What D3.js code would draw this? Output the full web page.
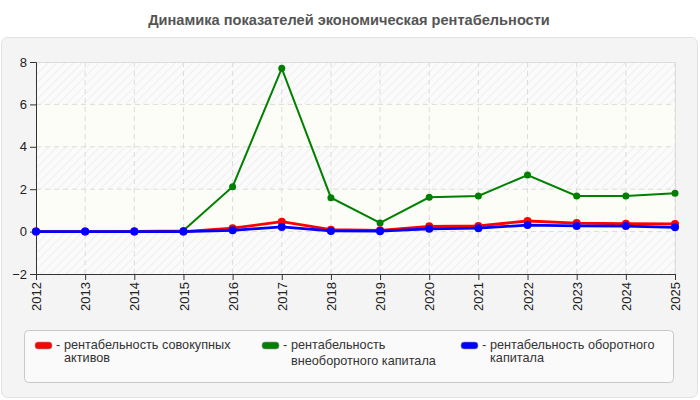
<!DOCTYPE html>
<html><head><meta charset="utf-8">
<script src="https://cdn.jsdelivr.net/npm/d3@7/dist/d3.min.js"></script>
<style>body{margin:0;background:#fff;} svg{display:block;font-family:"Liberation Sans",Arial,sans-serif;}</style>
</head><body>
<svg id="c" width="700" height="400"></svg>
<script>
const years = [2012,2013,2014,2015,2016,2017,2018,2019,2020,2021,2022,2023,2024,2025];
const totalAssets = [0,0,0,0,0.16,0.47,0.09,0.06,0.25,0.27,0.5,0.4,0.37,0.36];
const nonCurrent = [0,0,0.03,0.05,2.12,7.7,1.6,0.41,1.62,1.68,2.67,1.68,1.68,1.81];
const current = [0,0,0,0,0.06,0.22,0.03,0.02,0.13,0.16,0.31,0.27,0.26,0.2];
const yTicks = [-2,0,2,4,6,8];
const seriesNames = ["рентабельность совокупных активов","рентабельность внеоборотного капитала","рентабельность оборотного капитала"];
const title = "Динамика показателей экономическая рентабельности";

const svg = d3.select("#c");
const defs = svg.append("defs");
const pat = defs.append("pattern").attr("id","hatch").attr("patternUnits","userSpaceOnUse")
  .attr("width",6).attr("height",6).attr("patternTransform","rotate(45)");
pat.append("rect").attr("width",6).attr("height",6).attr("fill","#fbfbfb");
pat.append("line").attr("x1",0).attr("y1",0).attr("x2",0).attr("y2",6).attr("stroke","#e8e8e8").attr("stroke-width",1.2);

// outer panel
svg.append("rect").attr("x",1.5).attr("y",37.5).attr("width",696).attr("height",360).attr("rx",6)
  .attr("fill","#f4f4f4").attr("stroke","#e2e2e2");
svg.append("text").attr("x",349).attr("y",25).attr("text-anchor","middle")
  .attr("font-size",14.6).attr("font-weight","bold").attr("fill","#555").text(title);

const x = d3.scaleLinear().domain([2012,2025]).range([36,675]);
const y = d3.scaleLinear().domain([-2,8]).range([274,62]);

// bands
for (let i=0;i<yTicks.length-1;i++){
  const lo=yTicks[i], hi=yTicks[i+1];
  svg.append("rect").attr("x",x(2012)).attr("y",y(hi)).attr("width",x(2025)-x(2012)).attr("height",y(lo)-y(hi))
    .attr("fill", i%2===0 ? "url(#hatch)" : "#fdfdf7");
}
// grid
svg.append("g").selectAll("line").data(years.slice(1)).join("line")
  .attr("x1",d=>x(d)).attr("x2",d=>x(d)).attr("y1",y(8)).attr("y2",y(-2))
  .attr("stroke","#dcdcdc").attr("stroke-dasharray","5,4");
svg.append("g").selectAll("line").data(yTicks.slice(1,-1)).join("line")
  .attr("x1",x(2012)).attr("x2",x(2025)).attr("y1",d=>y(d)).attr("y2",d=>y(d))
  .attr("stroke","#dcdcdc").attr("stroke-dasharray","5,4");
svg.append("line").attr("x1",x(2012)).attr("x2",x(2025)).attr("y1",y(8)+0.5).attr("y2",y(8)+0.5).attr("stroke","#ddd");
svg.append("line").attr("x1",x(2025)+0.5).attr("x2",x(2025)+0.5).attr("y1",y(8)).attr("y2",y(-2)).attr("stroke","#ddd");

// axes
const yAxis = svg.append("g").attr("transform",`translate(${x(2012)},0)`)
  .call(d3.axisLeft(y).tickValues(yTicks).tickSize(6).tickPadding(3).tickFormat(d3.format("d")));
yAxis.selectAll("text").attr("font-size",13).attr("fill","#222").attr("font-family","Liberation Sans, Arial, sans-serif");
yAxis.selectAll("line,path").attr("stroke","#333");
const xAxis = svg.append("g").attr("transform",`translate(0,${y(-2)})`)
  .call(d3.axisBottom(x).tickValues(years).tickSize(6).tickFormat(d3.format("d")));
xAxis.selectAll("line,path").attr("stroke","#333");
xAxis.selectAll("text").attr("font-size",13).attr("fill","#222").attr("font-family","Liberation Sans, Arial, sans-serif")
  .attr("transform","rotate(-90)").attr("text-anchor","end").attr("x",-8).attr("y",0).attr("dy","0.35em");

// series
const series = [
  {vals:nonCurrent,color:"#008000",w:2,r:3.5},
  {vals:totalAssets,color:"#ff0000",w:2.8,r:4},
  {vals:current,color:"#0000ff",w:2.8,r:4}
];
const line = d3.line().x((d,i)=>x(years[i])).y(d=>y(d));
series.forEach(s=>{
  svg.append("path").datum(s.vals).attr("d",line).attr("fill","none").attr("stroke",s.color).attr("stroke-width",s.w);
  svg.append("g").selectAll("circle").data(s.vals).join("circle")
    .attr("cx",(d,i)=>x(years[i])).attr("cy",d=>y(d)).attr("r",s.r).attr("fill",s.color);
});

// legend
svg.append("rect").attr("x",24.5).attr("y",330.5).attr("width",649).attr("height",52).attr("rx",4)
  .attr("fill","#fafafa").attr("stroke","#c8c8c8");
const legItems = [
  {x:35,color:"#ff0000",lines:["рентабельность совокупных","активов"],lh:12.5},
  {x:262,color:"#008000",lines:["рентабельность","внеоборотного капитала"],lh:16},
  {x:461,color:"#0000ff",lines:["рентабельность оборотного","капитала"],lh:12.5}
];
legItems.forEach((it,k)=>{
  const g = svg.append("g");
  g.append("rect").attr("x",it.x).attr("y",342).attr("width",17).attr("height",7).attr("rx",3)
    .attr("fill",it.color).attr("stroke","#999").attr("stroke-width",0.6);
  g.append("text").attr("x",it.x+21).attr("y",349).attr("font-size",12.7).attr("fill","#333").text("-");
  it.lines.forEach((l,j)=>{
    g.append("text").attr("x",it.x+29).attr("y",349+j*it.lh).attr("font-size",12.7).attr("fill","#333").text(l);
  });
});
</script>
</body></html>
